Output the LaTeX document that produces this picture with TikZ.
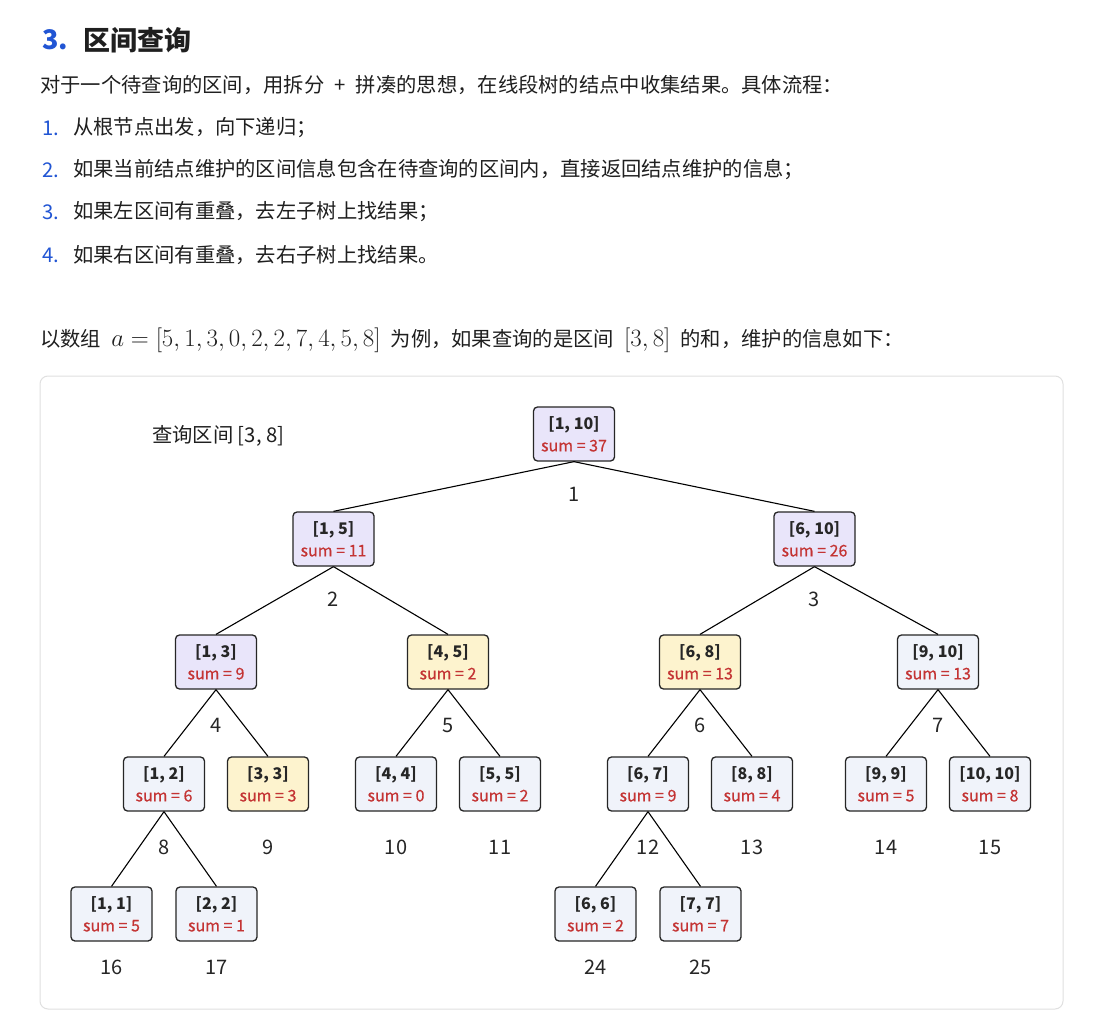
\documentclass[tikz,border=0pt]{standalone}
\usepackage{fontspec}
\usepackage{xcolor}
\usepackage{tikz}
\usetikzlibrary{positioning}
\newfontfamily\cjk{Noto Sans CJK SC}
\newfontfamily\sumfont[FakeBold=0.6]{Noto Sans CJK SC}
\definecolor{numblue}{RGB}{33,85,212}
\definecolor{sumred}{RGB}{196,52,52}
\definecolor{walkfill}{RGB}{233,229,250}
\definecolor{hitfill}{RGB}{253,243,206}
\definecolor{leaffill}{RGB}{240,243,250}
\definecolor{framegray}{RGB}{224,224,224}

\begin{document}
\begin{tikzpicture}[x=1pt, y=-1pt,
    level 1/.style={sibling distance=481pt, level distance=105pt},
    level 2/.style={sibling distance=235pt, level distance=123pt, label distance=28pt},
    level 3/.style={sibling distance=104pt, level distance=122pt, label distance=28pt},
    level 4/.style={sibling distance=105pt, level distance=130pt, label distance=18pt},
    label distance=25pt,
    txt/.style={anchor=west, inner sep=0pt, font=\cjk\fontsize{20.3}{24}\selectfont, text=black!88},
    itemnum/.style={txt, text=numblue},
    seg/.style={rectangle, rounded corners=4pt, draw=black!85, line width=1.3pt, fill=leaffill, minimum width=81pt, minimum height=54pt, inner sep=0pt, align=center, font=\cjk\fontsize{16}{22}\selectfont, text=black!85},
    walk/.style={seg, fill=walkfill},
    hit/.style={seg, fill=hitfill},
    num/.style={inner sep=0pt, font=\cjk\fontsize{20}{20}\selectfont, text=black!85},
    edge from parent/.style={draw, line width=1.1pt},
    edge from parent path={(\tikzparentnode.south) -- (\tikzchildnode.north)}
]
\useasboundingbox[fill=white] (0,0) rectangle (1111,1024);

% heading and steps
\node[itemnum, font=\cjk\bfseries\fontsize{27}{30}\selectfont] (titlenum) at (42,40) {3.};
\node[txt, font=\cjk\bfseries\fontsize{27}{30}\selectfont] (title) at (83,40) {区间查询};
\node[txt] (intro) at (40,85) {对于一个待查询的区间，用拆分\hspace{0.5em}+\hspace{0.5em}拼凑的思想，在线段树的结点中收集结果。具体流程：};
\node[itemnum] (s1num) at (42,128) {1.};
\node[txt] (s1) at (73,128) {从根节点出发，向下递归；};
\node[itemnum] (s2num) at (42,170) {2.};
\node[txt] (s2) at (73,170) {如果当前结点维护的区间信息包含在待查询的区间内，直接返回结点维护的信息；};
\node[itemnum] (s3num) at (42,212) {3.};
\node[txt] (s3) at (73,212) {如果左区间有重叠，去左子树上找结果；};
\node[itemnum] (s4num) at (42,255) {4.};
\node[txt] (s4) at (73,255) {如果右区间有重叠，去右子树上找结果。};
\node[txt] (example) at (40,340) {以数组 \;{\fontsize{23}{24}\selectfont$a=[5,1,3,0,2,2,7,4,5,8]$}\; 为例，如果查询的是区间 \;{\fontsize{23}{24}\selectfont$[3,8]$}\; 的和，维护的信息如下：};

% figure frame
\draw[framegray, line width=1pt, rounded corners=8pt] (40,376) rectangle (1063,1009);
\node[txt] (query) at (152,436) {查询区间 [3, 8]};

% segment tree
\node[walk, label={[num]below:1}] (n1) at (574,434) {\textbf{[1, 10]}\\\textcolor{sumred}{\sumfont sum = 37}}
    child {node[walk, label={[num]below:2}] (n2) {\textbf{[1, 5]}\\\textcolor{sumred}{\sumfont sum = 11}}
        child {node[walk, label={[num]below:4}] (n4) {\textbf{[1, 3]}\\\textcolor{sumred}{\sumfont sum = 9}}
            child {node[seg, label={[num]below:8}] (n8) {\textbf{[1, 2]}\\\textcolor{sumred}{\sumfont sum = 6}}
                child {node[seg, label={[num]below:16}] (n16) {\textbf{[1, 1]}\\\textcolor{sumred}{\sumfont sum = 5}}}
                child {node[seg, label={[num]below:17}] (n17) {\textbf{[2, 2]}\\\textcolor{sumred}{\sumfont sum = 1}}}
            }
            child {node[hit, label={[num]below:9}] (n9) {\textbf{[3, 3]}\\\textcolor{sumred}{\sumfont sum = 3}}}
        }
        child[xshift=-3pt] {node[hit, label={[num]below:5}] (n5) {\textbf{[4, 5]}\\\textcolor{sumred}{\sumfont sum = 2}}
            child {node[seg, label={[num]below:10}] (n10) {\textbf{[4, 4]}\\\textcolor{sumred}{\sumfont sum = 0}}}
            child {node[seg, label={[num]below:11}] (n11) {\textbf{[5, 5]}\\\textcolor{sumred}{\sumfont sum = 2}}}
        }
    }
    child {node[walk, label={[num]below:3}] (n3) {\textbf{[6, 10]}\\\textcolor{sumred}{\sumfont sum = 26}}
        child[xshift=3pt] {node[hit, label={[num]below:6}] (n6) {\textbf{[6, 8]}\\\textcolor{sumred}{\sumfont sum = 13}}
            child {node[seg, label={[num]below:12}] (n12) {\textbf{[6, 7]}\\\textcolor{sumred}{\sumfont sum = 9}}
                child {node[seg, label={[num]below:24}] (n24) {\textbf{[6, 6]}\\\textcolor{sumred}{\sumfont sum = 2}}}
                child {node[seg, label={[num]below:25}] (n25) {\textbf{[7, 7]}\\\textcolor{sumred}{\sumfont sum = 7}}}
            }
            child {node[seg, label={[num]below:13}] (n13) {\textbf{[8, 8]}\\\textcolor{sumred}{\sumfont sum = 4}}}
        }
        child[xshift=6pt] {node[seg, label={[num]below:7}] (n7) {\textbf{[9, 10]}\\\textcolor{sumred}{\sumfont sum = 13}}
            child {node[seg, label={[num]below:14}] (n14) {\textbf{[9, 9]}\\\textcolor{sumred}{\sumfont sum = 5}}}
            child {node[seg, label={[num]below:15}] (n15) {\textbf{[10, 10]}\\\textcolor{sumred}{\sumfont sum = 8}}}
        }
    };
\end{tikzpicture}
\end{document}
